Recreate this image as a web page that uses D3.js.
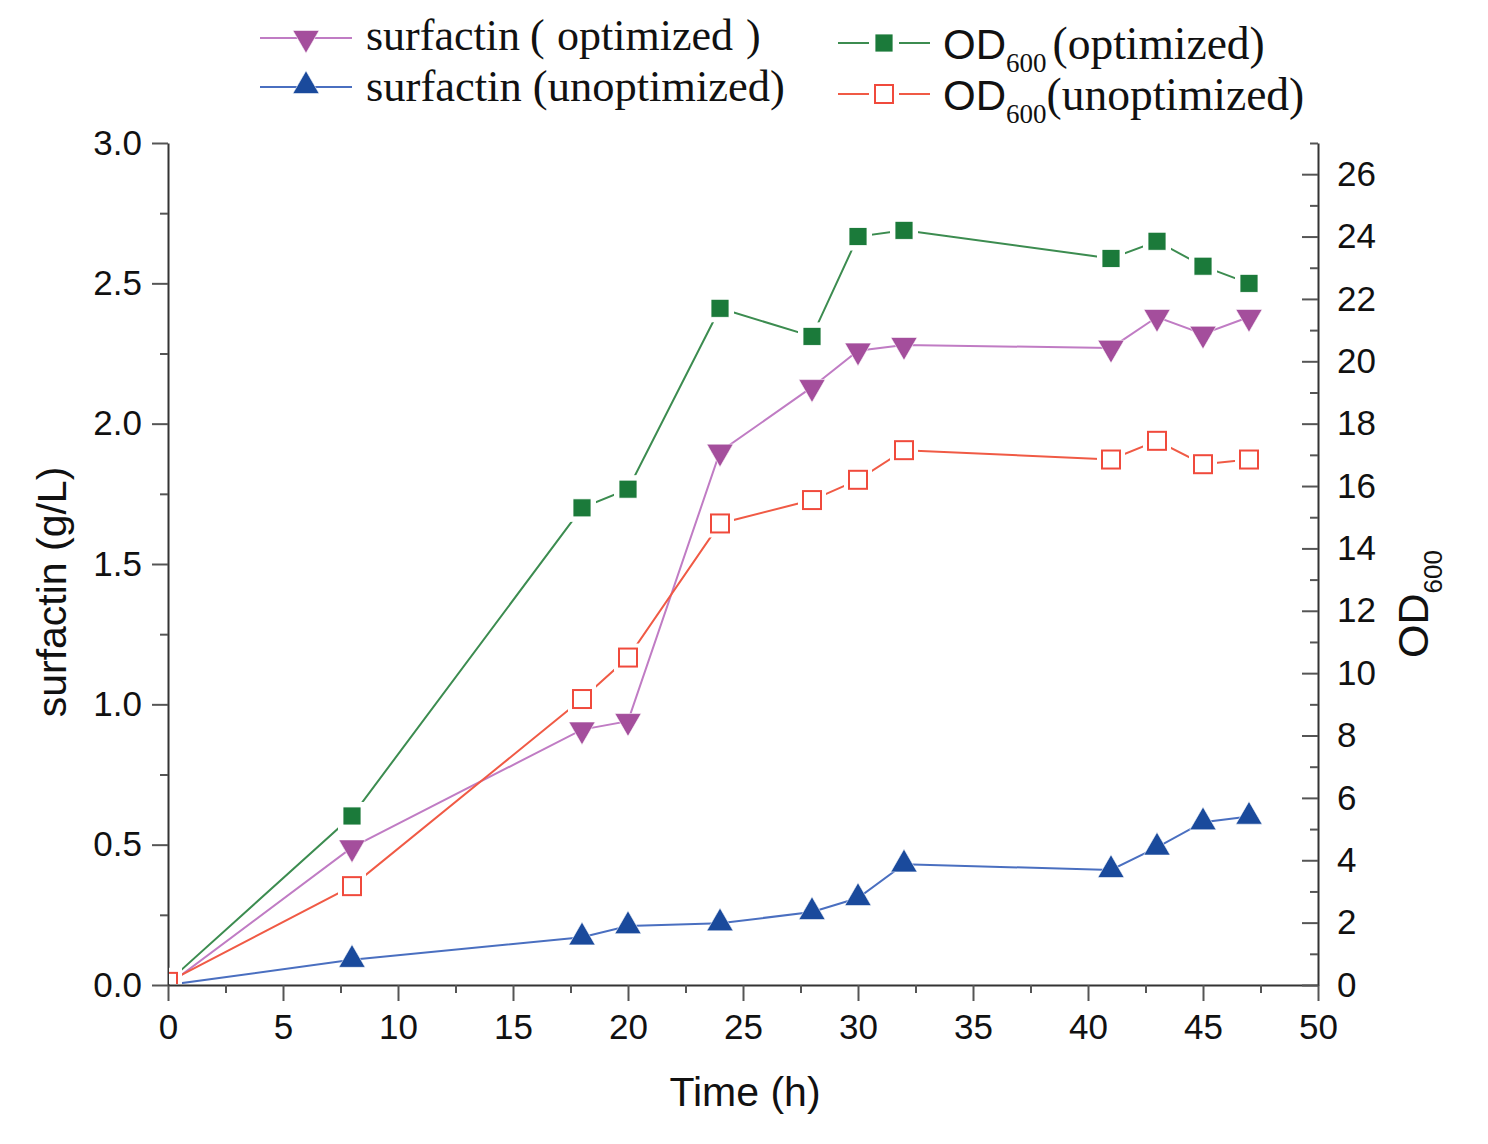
<!DOCTYPE html>
<html><head><meta charset="utf-8">
<script src="https://cdn.jsdelivr.net/npm/d3@7"></script>
<style>body{margin:0;background:#fff}svg{display:block}</style>
</head><body>
<script>
const time = [0, 8, 18, 20, 24, 28, 30, 32, 41, 43, 45, 47];
const surfOpt = [0, 0.49, 0.91, 0.94, 1.90, 2.13, 2.26, 2.28, 2.27, 2.38, 2.32, 2.38];
const surfUnopt = [0, 0.09, 0.17, 0.21, 0.22, 0.26, 0.31, 0.43, 0.41, 0.49, 0.58, 0.60];
const odOpt = [0.1, 5.42, 15.3, 15.9, 21.7, 20.8, 24.0, 24.2, 23.3, 23.85, 23.05, 22.5];
const odUnopt = [0.1, 3.17, 9.17, 10.5, 14.8, 15.55, 16.2, 17.15, 16.85, 17.45, 16.7, 16.85];
const xTicks = [0, 5, 10, 15, 20, 25, 30, 35, 40, 45, 50];
const yLeftTicks = [0, 0.5, 1.0, 1.5, 2.0, 2.5, 3.0];
const yRightTicks = [0, 2, 4, 6, 8, 10, 12, 14, 16, 18, 20, 22, 24, 26];

const W = 1488, H = 1144;
const m = {left: 168, right: 1318, top: 143, bottom: 985};
const svg = d3.select("body").append("svg").attr("width", W).attr("height", H);

const x = d3.scaleLinear().domain([0, 50]).range([m.left, m.right]);
const yL = d3.scaleLinear().domain([0, 3]).range([m.bottom, m.top]);
const yR = d3.scaleLinear().domain([0, 27]).range([m.bottom, m.top]);

const axisColor = "#333";
const tickFont = "Liberation Sans, Arial, sans-serif";

function styleAxis(g) {
  g.selectAll("path.domain").attr("stroke", axisColor).attr("stroke-width", 2);
  g.selectAll(".tick line").attr("stroke", "#555").attr("stroke-width", 2);
  g.selectAll("text").attr("font-family", tickFont).attr("font-size", 35).attr("fill", "#111");
}

// bottom axis
const gx = svg.append("g").attr("transform", `translate(0,${m.bottom})`)
  .call(d3.axisBottom(x).tickValues(xTicks).tickFormat(d3.format("d")).tickSize(16).tickSizeOuter(0).tickPadding(13));
styleAxis(gx);
const gxm = svg.append("g").attr("transform", `translate(0,${m.bottom})`)
  .call(d3.axisBottom(x).tickValues(d3.range(2.5, 50, 5)).tickFormat("").tickSize(8).tickSizeOuter(0));
gxm.select("path.domain").remove();
styleAxis(gxm);

// left axis
const gyl = svg.append("g").attr("transform", `translate(${m.left},0)`)
  .call(d3.axisLeft(yL).tickValues(yLeftTicks).tickFormat(d3.format(".1f")).tickSize(16).tickSizeOuter(0).tickPadding(10));
styleAxis(gyl);
const gylm = svg.append("g").attr("transform", `translate(${m.left},0)`)
  .call(d3.axisLeft(yL).tickValues(d3.range(0.25, 3, 0.5)).tickFormat("").tickSize(8).tickSizeOuter(0));
gylm.select("path.domain").remove();
styleAxis(gylm);

// right axis (ticks inward)
const gyr = svg.append("g").attr("transform", `translate(${m.right},0)`)
  .call(d3.axisRight(yR).tickValues(yRightTicks).tickFormat(d3.format("d")).tickSize(0).tickSizeOuter(0).tickPadding(19));
styleAxis(gyr);
gyr.selectAll(".tick").append("line").attr("x1", -16).attr("x2", 0).attr("stroke", "#555").attr("stroke-width", 2);
const gyrm = svg.append("g").attr("transform", `translate(${m.right},0)`)
  .call(d3.axisRight(yR).tickValues(d3.range(1, 28, 2)).tickFormat("").tickSize(0).tickSizeOuter(0));
gyrm.select("path.domain").remove();
gyrm.selectAll(".tick").append("line").attr("x1", -8).attr("x2", 0).attr("stroke", "#555").attr("stroke-width", 2);

// clip to plot area
svg.append("clipPath").attr("id", "clip").append("rect")
  .attr("x", m.left + 1).attr("y", m.top - 30).attr("width", m.right - m.left + 30).attr("height", m.bottom - m.top + 29);

const plot = svg.append("g").attr("clip-path", "url(#clip)");

const series = [
  {vals: surfOpt, y: yL, line: "#c07cc4", fill: "#a44e9c", stroke: "#a44e9c", shape: "down", gap: false},
  {vals: surfUnopt, y: yL, line: "#4a6fc0", fill: "#1a4a9c", stroke: "#1a4a9c", shape: "up", gap: false},
  {vals: odOpt, y: yR, line: "#3c8c50", fill: "#1b7a3a", stroke: "#1b7a3a", shape: "square", gap: true},
  {vals: odUnopt, y: yR, line: "#f05a45", fill: "#fff", stroke: "#f04a3c", shape: "open", gap: true},
];

const triUp = d3.symbol().type(d3.symbolTriangle).size(300);

function drawMarker(g, cx, cy, s, gap) {
  if (s.shape === "square" || s.shape === "open") {
    if (gap) g.append("rect").attr("x", cx - 14).attr("y", cy - 14).attr("width", 28).attr("height", 28).attr("fill", "#fff");
    g.append("rect").attr("x", cx - 9).attr("y", cy - 9).attr("width", 18).attr("height", 18)
      .attr("fill", s.fill).attr("stroke", s.shape === "open" ? s.stroke : "#fff").attr("stroke-width", s.shape === "open" ? 2 : 0.8);
  } else {
    const rot = s.shape === "down" ? 180 : 0;
    g.append("path").attr("d", triUp()).attr("transform", `translate(${cx},${cy}) rotate(${rot})`)
      .attr("fill", s.fill).attr("stroke", "#fff").attr("stroke-width", 0.6);
  }
}

series.forEach(s => {
  const line = d3.line().x((d, i) => x(time[i])).y(d => s.y(d));
  plot.append("path").datum(s.vals).attr("d", line).attr("fill", "none").attr("stroke", s.line).attr("stroke-width", 2);
});
series.forEach(s => {
  s.vals.forEach((v, i) => drawMarker(plot, x(time[i]), s.y(v), s, s.gap));
});

// axis titles
svg.append("text").attr("transform", "translate(66,592) rotate(-90)").attr("text-anchor", "middle")
  .attr("font-family", tickFont).attr("font-size", 41).attr("fill", "#111").text("surfactin (g/L)");
svg.append("text").attr("x", 745).attr("y", 1106).attr("text-anchor", "middle")
  .attr("font-family", tickFont).attr("font-size", 41).attr("fill", "#111").text("Time (h)");
const odt = svg.append("text").attr("transform", "translate(1428,604) rotate(-90)").attr("text-anchor", "middle")
  .attr("font-family", tickFont).attr("fill", "#111");
odt.append("tspan").attr("font-size", 43).text("OD");
odt.append("tspan").attr("font-size", 26).attr("dy", 14).text("600");

// legend
const serif = "Liberation Serif, Times New Roman, serif";
const leg = svg.append("g");
function legLine(x1, x2, y, color) {
  leg.append("line").attr("x1", x1).attr("x2", x2).attr("y1", y).attr("y2", y).attr("stroke", color).attr("stroke-width", 2);
}
// surfactin optimized
legLine(260, 352, 38, series[0].line);
drawMarker(leg, 306, 38, series[0], false);
const t1 = leg.append("text").attr("y", 50).attr("font-family", serif).attr("font-size", 44).attr("fill", "#111");
t1.append("tspan").attr("x", 366).text("surfactin");
t1.append("tspan").attr("x", 530).text("(");
t1.append("tspan").attr("x", 557).text("optimized");
t1.append("tspan").attr("x", 746).text(")");
legLine(260, 352, 87, series[1].line);
drawMarker(leg, 306, 86, series[1], false);
leg.append("text").attr("x", 366).attr("y", 101).attr("font-family", serif).attr("font-size", 44.5).attr("fill", "#111")
  .text("surfactin (unoptimized)");

legLine(838, 869, 43, series[2].line); legLine(899, 930, 43, series[2].line);
drawMarker(leg, 884, 43, series[2], false);
legLine(838, 869, 94, series[3].line); legLine(899, 930, 94, series[3].line);
drawMarker(leg, 884, 94, series[3], false);

function odLegend(yb, label, gapPx) {
  const t = leg.append("text").attr("x", 943).attr("y", yb).attr("fill", "#111");
  t.append("tspan").attr("font-family", tickFont).attr("font-size", 42).text("OD");
  t.append("tspan").attr("font-family", serif).attr("font-size", 27).attr("dy", 13).text("600");
  t.append("tspan").attr("font-family", serif).attr("font-size", 45.5).attr("dy", -13).attr("dx", gapPx).text(label);
}
odLegend(59, "(optimized)", 6);
odLegend(110, "(unoptimized)", 0);
</script>
</body></html>
